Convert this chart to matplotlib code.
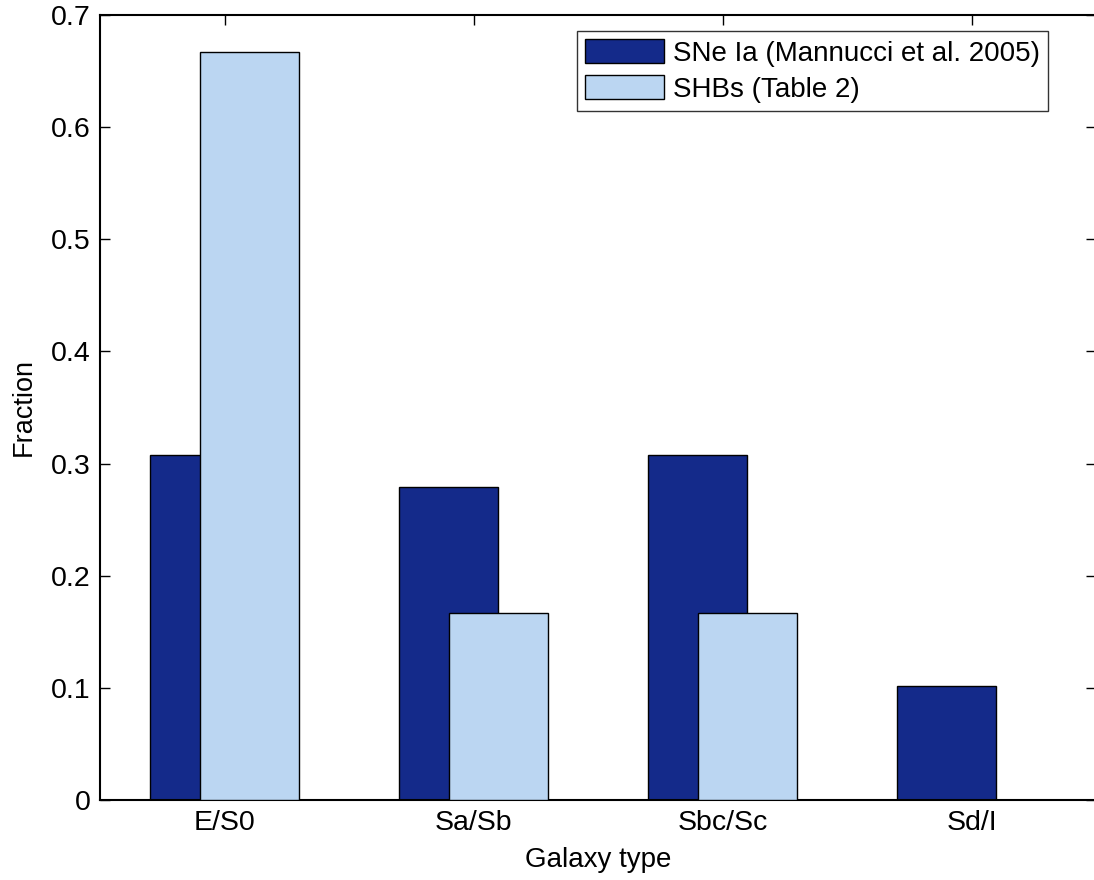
import matplotlib
matplotlib.use("Agg")
import matplotlib.pyplot as plt
import numpy as np

categories = ["E/S0", "Sa/Sb", "Sbc/Sc", "Sd/I"]
snia = [0.308, 0.279, 0.308, 0.102]
shbs = [0.667, 0.1667, 0.1667, 0.0]
labels = ["SNe Ia (Mannucci et al. 2005)", "SHBs (Table 2)"]
yticks = [0, 0.1, 0.2, 0.3, 0.4, 0.5, 0.6, 0.7]

plt.rcParams['font.family'] = ['Liberation Sans', 'DejaVu Sans']
fs = 20

fig = plt.figure(figsize=(10.94, 8.8), dpi=100)
ax = fig.add_axes([100/1094, 80/880, 996/1094, 785/880])

x = np.arange(1, len(categories) + 1)
w = 0.4
off = 0.1
ax.bar(x - off, snia, width=w, color="#142a8a", edgecolor="black", linewidth=1.0, label=labels[0], zorder=2)
ax.bar(x + off, shbs, width=w, color="#bbd6f2", edgecolor="black", linewidth=1.0, label=labels[1], zorder=3)

ax.set_xlim(0.5, 4.5)
ax.set_ylim(0, 0.7)
ax.set_xticks(x)
ax.set_xticklabels(categories)
ax.set_yticks(yticks)
ax.set_yticklabels(["0", "0.1", "0.2", "0.3", "0.4", "0.5", "0.6", "0.7"])
ax.tick_params(direction="in", length=7.2, width=1.0, top=True, right=True, labelsize=20.5, pad=7)
for s in ax.spines.values():
    s.set_linewidth(1.5)
ax.set_xlabel("Galaxy type", fontsize=fs, labelpad=8)
ax.set_ylabel("Fraction", fontsize=19.5, labelpad=10)

leg = ax.legend(loc="upper right", bbox_to_anchor=((1048-100)/996, (800-31)/785),
                borderaxespad=0, fontsize=fs, frameon=True, fancybox=False,
                edgecolor="black", handlelength=2.85, handleheight=0.95,
                handletextpad=0.3, borderpad=0.3, labelspacing=0.3)
leg.get_frame().set_linewidth(1.0)

fig.savefig("out.png", dpi=100)
